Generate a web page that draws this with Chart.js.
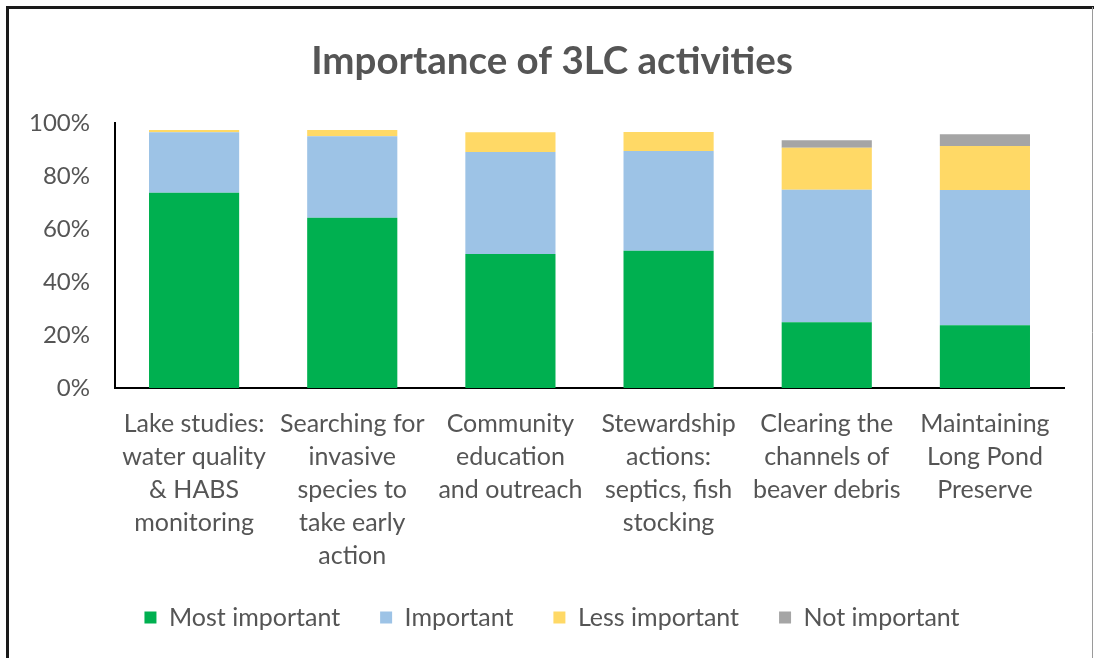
<!DOCTYPE html>
<html>
<head>
<meta charset="utf-8">
<script src="https://cdn.jsdelivr.net/npm/chart.js@4"></script>
<style>
  html, body { margin: 0; padding: 0; background: #fff; }
  #wrap { width: 1094px; height: 658px; position: relative; }
</style>
</head>
<body>
<div id="wrap"><canvas id="importanceChart" width="1094" height="658"></canvas></div>
<script>
const categories = [
    ["Lake studies:", "water quality", "& HABS", "monitoring"],
    ["Searching for", "invasive", "species to", "take early", "action"],
    ["Community", "education", "and outreach"],
    ["Stewardship", "actions:", "septics, fish", "stocking"],
    ["Clearing the", "channels of", "beaver debris"],
    ["Maintaining", "Long Pond", "Preserve"],
];
const mostImportant = [73.7, 64.3, 50.6, 51.8, 24.8, 23.7];
const important = [22.9, 30.8, 38.5, 37.7, 50.1, 51.1];
const lessImportant = [0.8, 2.3, 7.5, 7.2, 15.8, 16.6];
const notImportant = [0, 0, 0, 0, 2.9, 4.4];
const yTicks = [0, 20, 40, 60, 80, 100];

const textColor = "#555555";
const fontFamily = "Lato, 'Open Sans', sans-serif";

// picture frame: heavy black left/top edge, thin grey right edge
const framePlugin = {
    id: "frame",
    afterLayout(chart) {
        // widen the y label clip box so "100%" is not cut off
        chart.scales.y.left = 14;
    },
    afterDraw(chart) {
        const ctx = chart.ctx;
        ctx.save();
        ctx.strokeStyle = "#1a1a1a";
        ctx.lineWidth = 3;
        ctx.beginPath();
        ctx.moveTo(7.5, 658);
        ctx.lineTo(7.5, 7.5);
        ctx.lineTo(1094, 7.5);
        ctx.stroke();
        ctx.strokeStyle = "#9a9a9a";
        ctx.lineWidth = 1;
        ctx.beginPath();
        ctx.moveTo(1092.5, 7);
        ctx.lineTo(1092.5, 658);
        ctx.stroke();
        ctx.restore();
    },
};

let canvas = document.getElementById("importanceChart");
let importanceChart = new Chart(canvas, {
    type: "bar",
    data: {
        labels: categories,
        datasets: [
            { label: "Most important", data: mostImportant, backgroundColor: "#00B050" },
            { label: "Important", data: important, backgroundColor: "#9DC3E6" },
            { label: "Less important", data: lessImportant, backgroundColor: "#FFD966" },
            { label: "Not important", data: notImportant, backgroundColor: "#A5A5A5" },
        ],
    },
    options: {
        responsive: false,
        animation: false,
        layout: {
            padding: { left: 40, right: 30, top: 38, bottom: 18 },
        },
        datasets: {
            bar: { barPercentage: 0.57, categoryPercentage: 1 },
        },
        scales: {
            x: {
                stacked: true,
                grid: { display: false, drawTicks: false },
                border: { display: true, color: "#000", width: 2 },
                ticks: {
                    color: textColor,
                    font: { family: fontFamily, size: 25, lineHeight: 1.32 },
                    padding: 19,
                    maxRotation: 0,
                    autoSkip: false,
                },
                // let the legend sit closer under the wrapped labels
                afterFit(scale) {
                    scale.height -= 26;
                },
            },
            y: {
                stacked: true,
                min: 0,
                max: 100,
                afterBuildTicks(axis) {
                    axis.ticks = yTicks.map(v => ({ value: v }));
                },
                afterFit(scale) {
                    scale.width = 75;
                },
                grid: { display: false, drawTicks: false },
                border: { display: true, color: "#000", width: 2 },
                ticks: {
                    color: textColor,
                    font: { family: fontFamily, size: 24 },
                    padding: 25,
                    callback: v => v + "%",
                },
            },
        },
        plugins: {
            title: {
                display: true,
                text: "Importance of 3LC activities",
                color: textColor,
                font: { family: fontFamily, size: 38.5, weight: "bold" },
                padding: { top: 0, bottom: 39 },
            },
            legend: {
                position: "bottom",
                labels: {
                    color: textColor,
                    font: { family: fontFamily, size: 25 },
                    boxWidth: 12,
                    boxHeight: 12,
                    padding: 40,
                },
            },
            tooltip: { enabled: false },
        },
    },
    plugins: [framePlugin],
});
</script>
</body>
</html>
